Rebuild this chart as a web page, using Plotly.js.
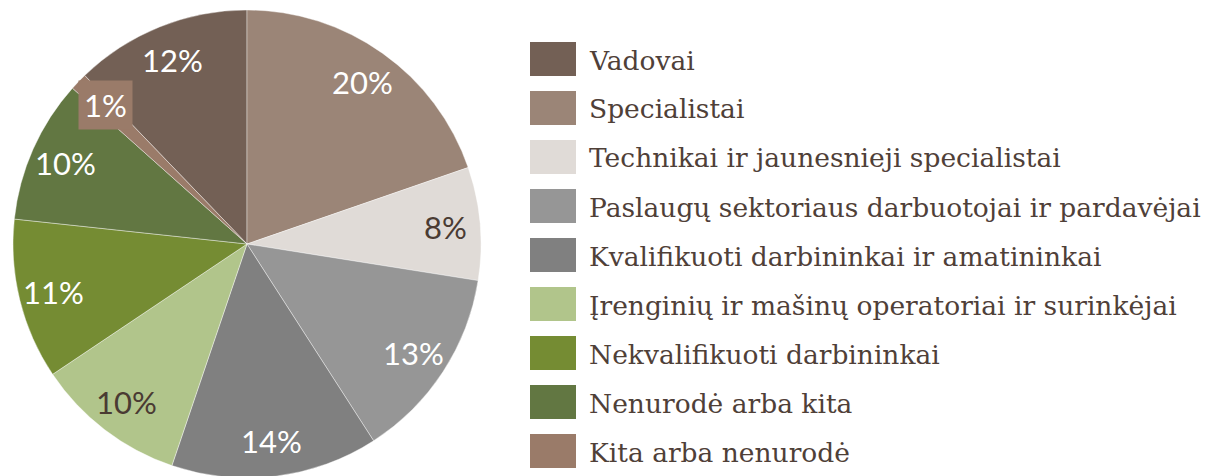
<!DOCTYPE html>
<html>
<head>
<meta charset="utf-8">
<script src="https://cdn.plot.ly/plotly-3.0.1.min.js"></script>
<style>
html,body{margin:0;padding:0;overflow:hidden;background:#fff;}
#chart{width:1209px;height:480px;}
</style>
</head>
<body>
<div id="chart"></div>
<script>
const categories = [
  "Vadovai",
  "Specialistai",
  "Technikai ir jaunesnieji specialistai",
  "Paslaugų sektoriaus darbuotojai ir pardavėjai",
  "Kvalifikuoti darbininkai ir amatininkai",
  "Įrenginių ir mašinų operatoriai ir surinkėjai",
  "Nekvalifikuoti darbininkai",
  "Nenurodė arba kita",
  "Kita arba nenurodė"
];
const values = [12.2, 19.7, 7.8, 13.4, 14.3, 10.4, 11.1, 9.9, 1.2];
const colors = ["#736055", "#9b8577", "#e0dbd7", "#969696", "#808080", "#b1c58b", "#758c33", "#627742", "#9a7b69"];
const labelColors = ["#ffffff", "#ffffff", "#4a3b33", "#ffffff", "#ffffff", "#4a3b33", "#ffffff", "#ffffff", "#ffffff"];
const boxedLabel = [false, false, false, false, false, false, false, false, true];

const W = 1209, H = 480;
const total = values.reduce((a, b) => a + b, 0);
const pct = values.map(v => Math.round(v / total * 100) + "%");

// pie geometry (pixels)
const pieCx = 247, pieCy = 244, pieR = 234;
const startAngle = -values[0] / total * 360;

const trace = {
  type: "pie",
  labels: categories,
  values: values,
  sort: false,
  direction: "clockwise",
  rotation: startAngle,
  marker: {colors: colors, line: {color: "#ffffff", width: 0.4}},
  textinfo: "none",
  hoverinfo: "label+percent",
  showlegend: false,
  domain: {x: [(pieCx - pieR) / W, (pieCx + pieR) / W], y: [(H - pieCy - pieR) / H, (H - pieCy + pieR) / H]}
};

const labelFont = "Lato, 'Open Sans', sans-serif";
const shapes = [];
const annotations = [];

// percentage labels at slice mid-angles
let cum = 0;
values.forEach((v, i) => {
  const mid = (startAngle + (cum + v / 2) / total * 360) * Math.PI / 180;
  cum += v;
  if (boxedLabel[i]) return;
  const rho = 0.85 * pieR;
  const px = pieCx + rho * Math.sin(mid);
  const py = pieCy - rho * Math.cos(mid);
  annotations.push({
    xref: "paper", yref: "paper", x: px / W, y: 1 - py / H,
    xanchor: "center", yanchor: "middle", showarrow: false,
    text: pct[i],
    font: {family: labelFont, size: 31, color: labelColors[i]}
  });
});

// boxed label for the small slice
boxedLabel.forEach((b, i) => {
  if (!b) return;
  annotations.push({
    xref: "paper", yref: "paper", x: 105 / W, y: 1 - 105 / H,
    xanchor: "center", yanchor: "middle", showarrow: false,
    text: pct[i], bgcolor: colors[i], borderpad: 5,
    font: {family: labelFont, size: 31, color: labelColors[i]}
  });
});

// legend
const legX0 = 530, legSw = 46, legSh = 34, legTop = 59, legStep = 49, legTextX = 587;
categories.forEach((c, i) => {
  const yc = legTop + i * legStep;
  shapes.push({
    type: "rect", xref: "paper", yref: "paper",
    x0: legX0 / W, x1: (legX0 + legSw) / W,
    y0: 1 - (yc - legSh / 2) / H, y1: 1 - (yc + legSh / 2) / H,
    fillcolor: colors[i], line: {width: 0}
  });
  annotations.push({
    xref: "paper", yref: "paper", x: legTextX / W, y: 1 - (yc + 1) / H,
    xanchor: "left", yanchor: "middle", showarrow: false,
    text: c,
    font: {family: "'DejaVu Serif', serif", size: 26.5, color: "#4f4038"}
  });
});

const layout = {
  width: W, height: H,
  margin: {l: 0, r: 0, t: 0, b: 0},
  paper_bgcolor: "#ffffff",
  showlegend: false,
  shapes: shapes,
  annotations: annotations
};

Plotly.newPlot("chart", [trace], layout, {displayModeBar: false, staticPlot: true});
</script>
</body>
</html>
